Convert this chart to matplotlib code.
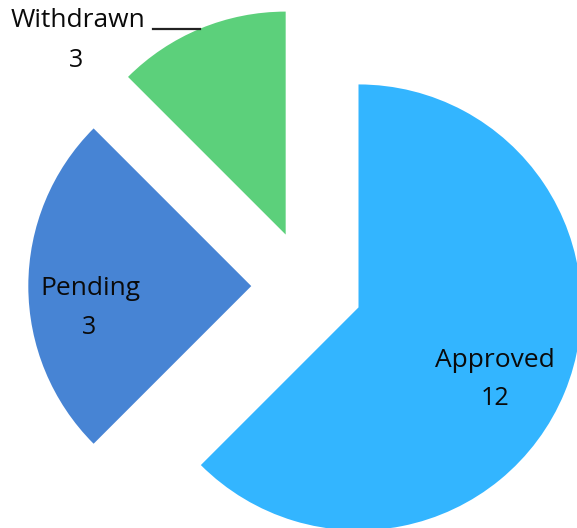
import matplotlib.pyplot as plt

# slice data (labels show the counts, slice sizes)
categories = ["Approved", "Pending", "Withdrawn"]
counts = [12, 3, 3]
slice_share = [62.5, 25.0, 12.5]
colors = ["#33b5ff", "#4784d4", "#5cd07b"]

plt.rcParams['font.family'] = ['Open Sans', 'DejaVu Sans']

fig = plt.figure(figsize=(5.77, 5.28), dpi=100)
ax = fig.add_axes([0, 0, 1, 1])

ax.pie(slice_share, colors=colors, startangle=90, counterclock=False,
       explode=[0.25, 0.25, 0.25], radius=1.0,
       wedgeprops=dict(linewidth=0))

# label positions (name, count) in data units around the pie centre
name_pos = [(0.843, -0.335), (-0.973, -0.012), (-1.027, 1.19)]
count_pos = [(0.843, -0.502), (-0.978, -0.188), (-1.036, 1.012)]

for name, n, p1, p2 in zip(categories, counts, name_pos, count_pos):
    ax.text(p1[0], p1[1], name, ha="center", va="center", fontsize=19, color="#0a0a0a")
    ax.text(p2[0], p2[1], str(n), ha="center", va="center", fontsize=18, color="#0a0a0a")

# leader line for the outside label
ax.plot([-0.69, -0.48], [1.155, 1.155], color="#222222", linewidth=1.6)

ax.set_xlim(-1.377, 1.211)
ax.set_ylim(-1.085, 1.283)
ax.set_aspect("auto")
ax.axis("off")

fig.savefig("out.png", dpi=100)
